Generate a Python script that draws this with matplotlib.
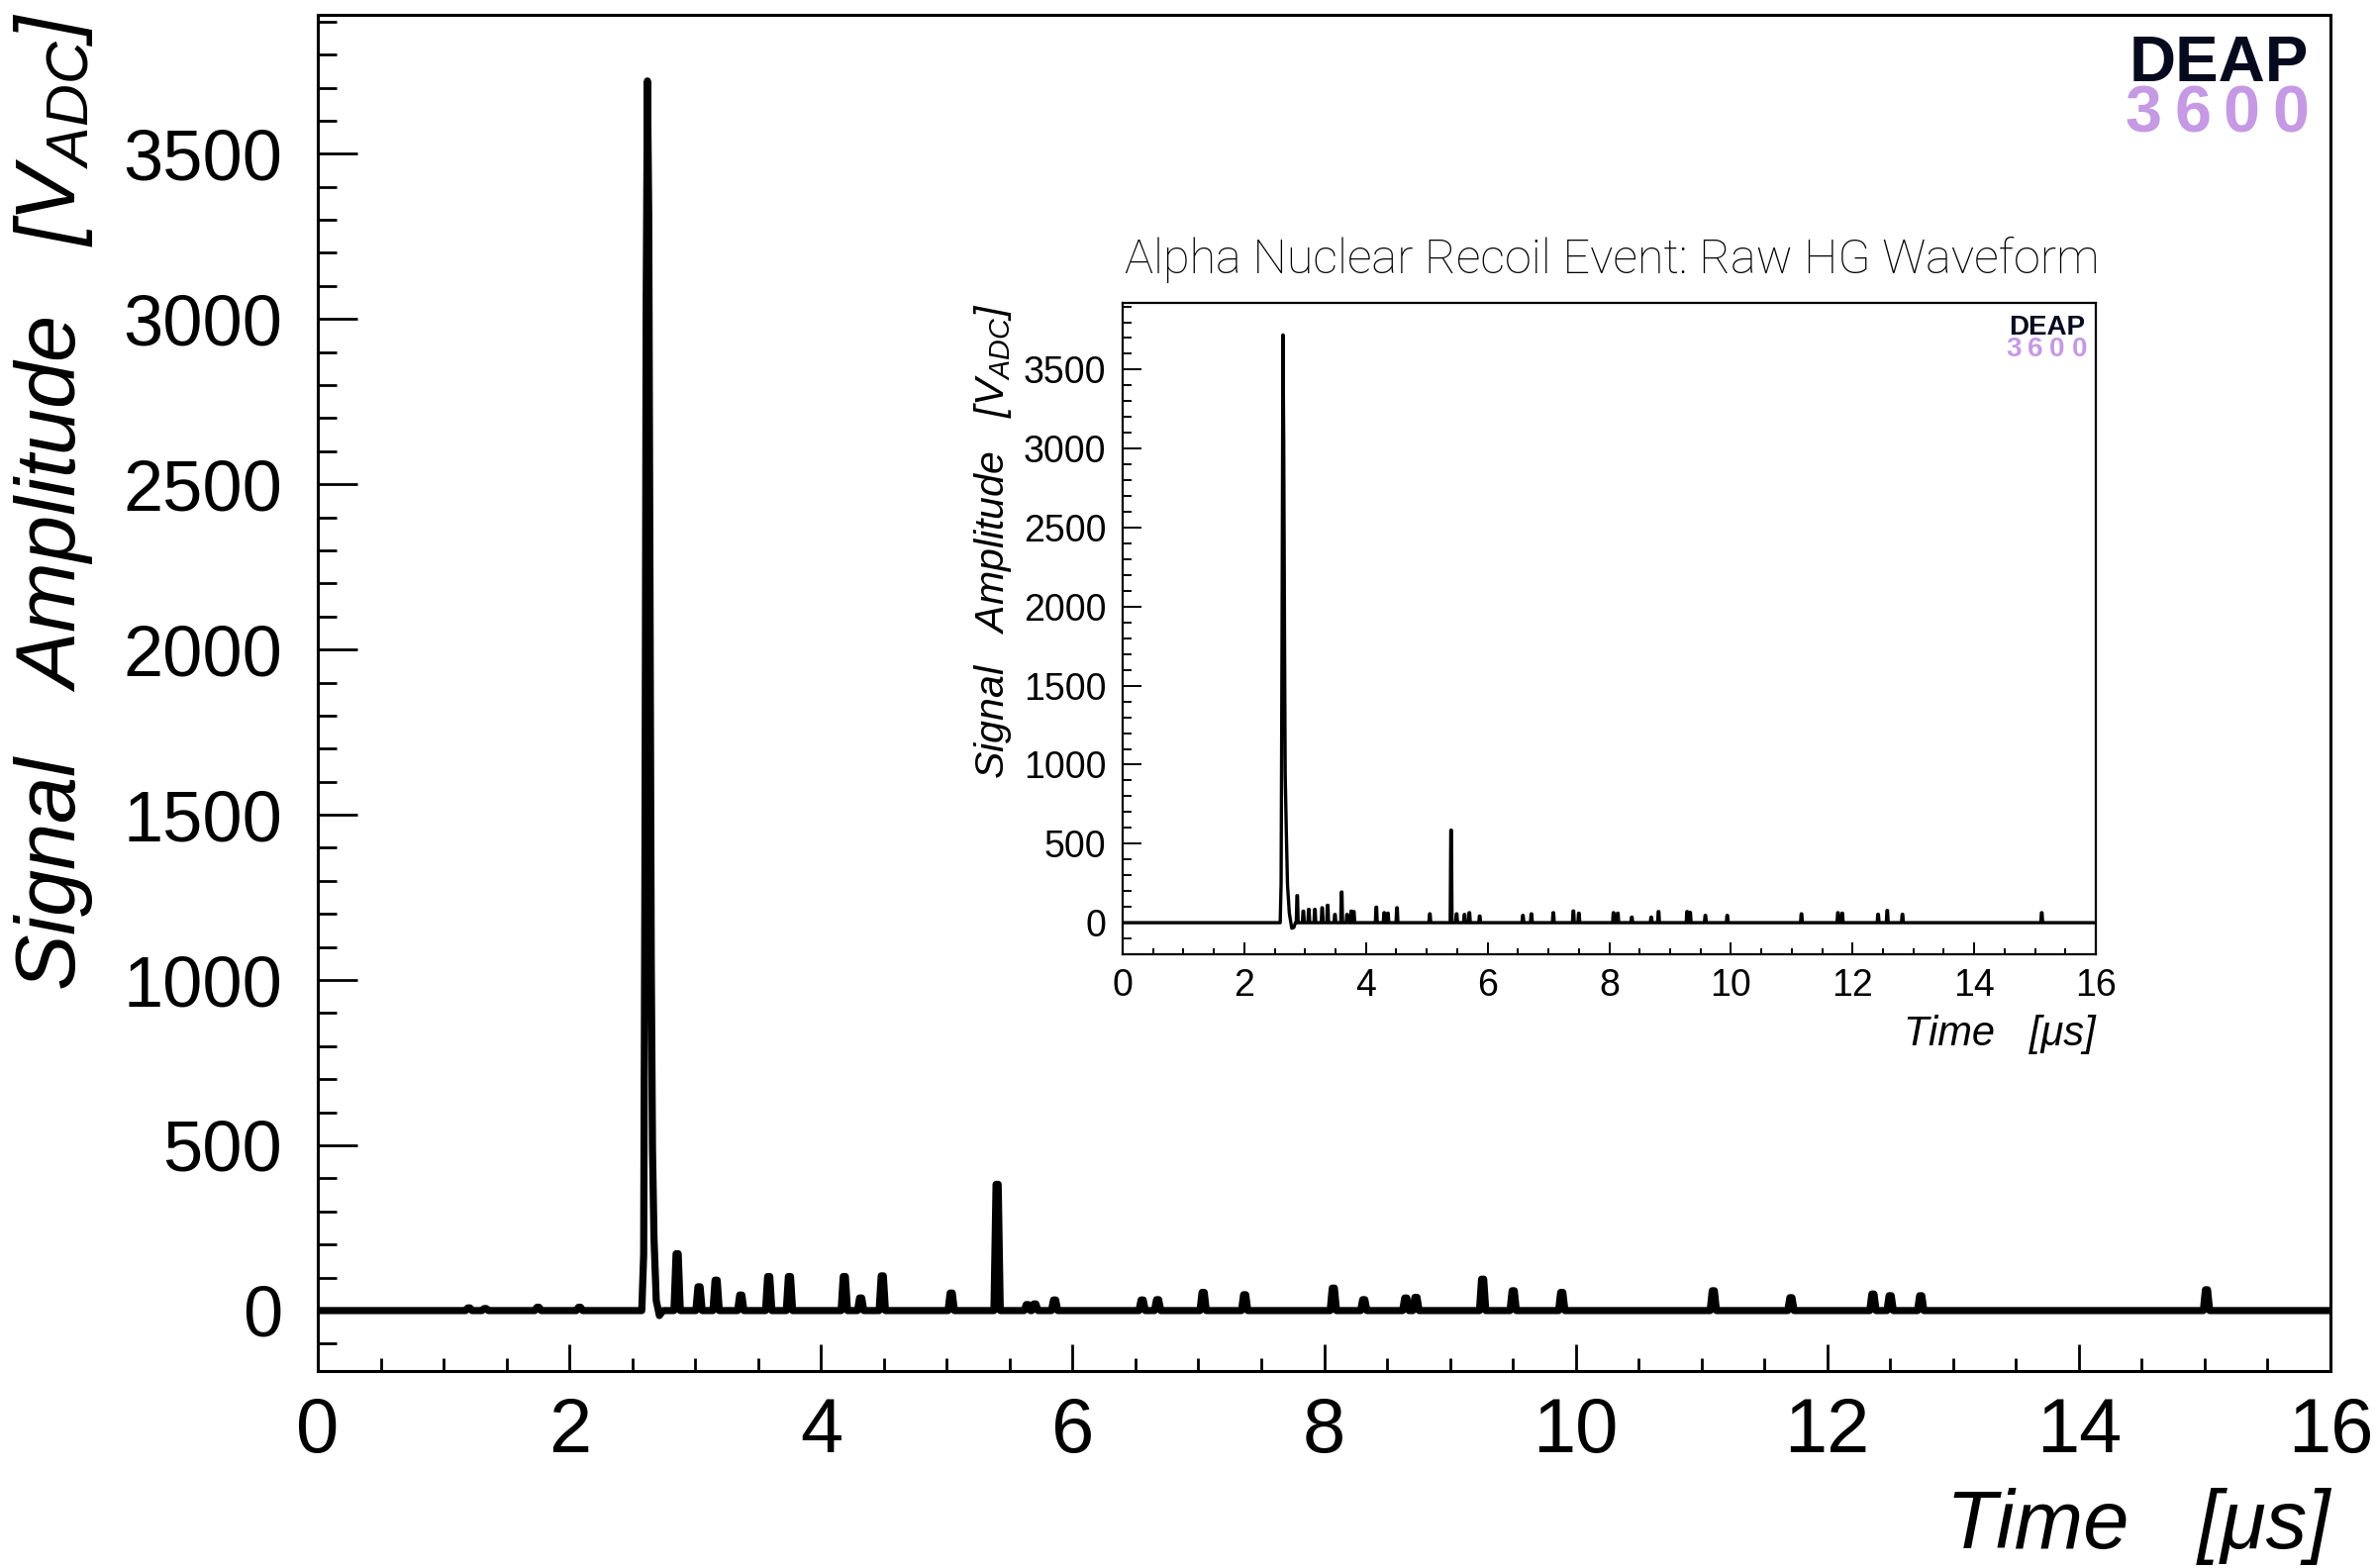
import numpy as np
import matplotlib
matplotlib.use("Agg")
import matplotlib.pyplot as plt
from matplotlib.ticker import MultipleLocator

plt.rcParams['font.family'] = ['Liberation Sans', 'DejaVu Sans']
plt.rcParams['mathtext.fontset'] = 'custom'
plt.rcParams['mathtext.rm'] = 'Liberation Sans'
plt.rcParams['mathtext.it'] = 'Liberation Sans:italic'

# --- main (large) waveform: primary pulse samples [us], [ADC]
main_peak_t = [2.575, 2.590, 2.600, 2.610, 2.620, 2.630, 2.640, 2.650, 2.660, 2.672, 2.690, 2.715, 2.745]
main_peak_v = [0, 170, 1330, 3050, 3720, 3320, 2170, 1070, 490, 220, 30, -15, 0]
# later single-photon-like pulses
main_pulse_t = [1.20, 1.33, 1.75, 2.08, 2.856, 3.03, 3.166, 3.362, 3.584, 3.749, 4.185, 4.315,
                4.487, 5.035, 5.40, 5.64, 5.70, 5.857, 6.553, 6.676, 7.038, 7.368, 8.073,
                8.315, 8.649, 8.73, 9.26, 9.503, 9.889, 11.094, 11.711, 12.363, 12.50,
                12.743, 15.015]
main_pulse_a = [8, 6, 10, 10, 172, 72, 92, 47, 103, 103, 103, 38,
                105, 53, 382, 18, 20, 32, 32, 33, 55, 48, 68,
                33, 38, 40, 95, 60, 55, 60, 39, 50, 45,
                45, 63]

# --- inset waveform
inset_peak_t = [2.590, 2.605, 2.620, 2.635, 2.648, 2.660, 2.672, 2.690, 2.710, 2.740, 2.780, 2.815, 2.840]
inset_peak_v = [0, 250, 1750, 3720, 3050, 1900, 940, 590, 240, 60, -35, -30, 0]
inset_pulse_t = [2.87, 2.97, 3.06, 3.16, 3.28, 3.37, 3.49, 3.60, 3.69, 3.76, 3.80, 4.17,
                 4.30, 4.36, 4.51, 5.05, 5.40, 5.49, 5.62, 5.70, 5.87, 6.58, 6.72, 7.08,
                 7.41, 7.50, 8.07, 8.14, 8.37, 8.69, 8.81, 9.28, 9.33, 9.58, 9.94, 11.16,
                 11.76, 11.83, 12.42, 12.57, 12.82, 15.11]
inset_pulse_a = [171, 73, 84, 84, 94, 110, 52, 194, 52, 73, 70, 98,
                 63, 60, 94, 56, 585, 56, 52, 63, 42, 46, 56, 63,
                 74, 60, 63, 60, 35, 35, 70, 70, 65, 46, 46, 56,
                 63, 60, 53, 77, 53, 63]

x_ticks = [0, 2, 4, 6, 8, 10, 12, 14, 16]
y_ticks = [0, 500, 1000, 1500, 2000, 2500, 3000, 3500]


def waveform(peak_t, peak_v, pulse_t, pulse_a, hw):
    t = [0.0] + list(peak_t)
    v = [0.0] + list(peak_v)
    for pt, pa in zip(pulse_t, pulse_a):
        t += [pt - hw, pt - hw / 3, pt + hw / 3, pt + hw]
        v += [0, pa, pa, 0]
    t.append(16.0)
    v.append(0.0)
    order = np.argsort(t, kind='stable')
    return np.array(t)[order], np.array(v)[order]


fig = plt.figure(figsize=(12, 7.92), dpi=200)

# main axes
ax = fig.add_axes([0.1338, 0.1256, 0.8470, 0.8649])
t, v = waveform(main_peak_t, main_peak_v, main_pulse_t, main_pulse_a, 0.025)
ax.plot(t, v, color='black', lw=2.6, solid_joinstyle='round')
ax.set_xlim(0, 16)
ax.set_ylim(-183, 3920)
ax.set_xticks(x_ticks)
ax.set_yticks(y_ticks)
ax.xaxis.set_minor_locator(MultipleLocator(0.5))
ax.yaxis.set_minor_locator(MultipleLocator(100))
ax.tick_params(which='both', direction='in', top=False, right=False, width=1.0)
ax.tick_params(axis='y', which='major', length=14.4, pad=13, labelsize=26)
ax.tick_params(axis='y', which='minor', length=6.8)
ax.tick_params(axis='x', which='major', length=9.7, pad=9, labelsize=28)
ax.tick_params(axis='x', which='minor', length=4.7)
for s in ax.spines.values():
    s.set_linewidth(1.1)

fig.text(0.0225, 0.9920, 'Signal   Amplitude   [$V_{ADC}$]', rotation=90,
         ha='center', va='top', fontsize=30.5, style='italic')
fig.text(0.9808, 0.0126, 'Time   [μs]', ha='right', va='baseline',
         fontsize=30, style='italic')

# DEAP 3600 logo (main)
fig.text(0.9717, 0.9482, 'DEAP', ha='right', va='baseline', fontsize=23.5,
         fontweight='bold', color='#050a1f')
for i, ch in enumerate('3600'):
    fig.text((2165.5 + i * 49.3) / 2400, 0.9160, ch, ha='center', va='baseline',
             fontsize=24, fontweight='bold', color='#c699e4')

# inset axes
ax2 = fig.add_axes([0.4725, 0.3914, 0.4096, 0.4154])
t2, v2 = waveform(inset_peak_t, inset_peak_v, inset_pulse_t, inset_pulse_a, 0.015)
ax2.plot(t2, v2, color='black', lw=1.2, solid_joinstyle='round')
ax2.set_xlim(0, 16)
ax2.set_ylim(-200, 3922)
ax2.set_xticks(x_ticks)
ax2.set_yticks(y_ticks)
ax2.xaxis.set_minor_locator(MultipleLocator(0.5))
ax2.yaxis.set_minor_locator(MultipleLocator(100))
ax2.tick_params(which='both', direction='in', top=False, right=False, width=0.7)
ax2.tick_params(axis='y', which='major', length=6.8, pad=6, labelsize=13.5)
ax2.tick_params(axis='y', which='minor', length=3.2)
ax2.tick_params(axis='x', which='major', length=4.3, pad=5, labelsize=13.5)
ax2.tick_params(axis='x', which='minor', length=2.2)
for s in ax2.spines.values():
    s.set_linewidth(0.8)

fig.text(0.4733, 0.826, 'Alpha Nuclear Recoil Event: Raw HG Waveform', ha='left',
         va='baseline', fontsize=17.5, family=['Roboto', 'DejaVu Sans'], fontweight='light')
fig.text(0.418, 0.8068, 'Signal   Amplitude   [$V_{ADC}$]', rotation=90,
         ha='center', va='top', fontsize=14.8, style='italic')
fig.text(0.8821, 0.3333, 'Time   [μs]', ha='right', va='baseline',
         fontsize=15, style='italic')

# DEAP 3600 logo (inset)
fig.text(2106 / 2400, 1 - 338 / 1584, 'DEAP', ha='right', va='baseline', fontsize=10,
         fontweight='bold', color='#050a1f')
for i, ch in enumerate('3600'):
    fig.text((2033.7 + i * 22.2) / 2400, 1 - 360 / 1584, ch, ha='center', va='baseline',
             fontsize=10, fontweight='bold', color='#c699e4')

fig.savefig('out.png', dpi=200)
